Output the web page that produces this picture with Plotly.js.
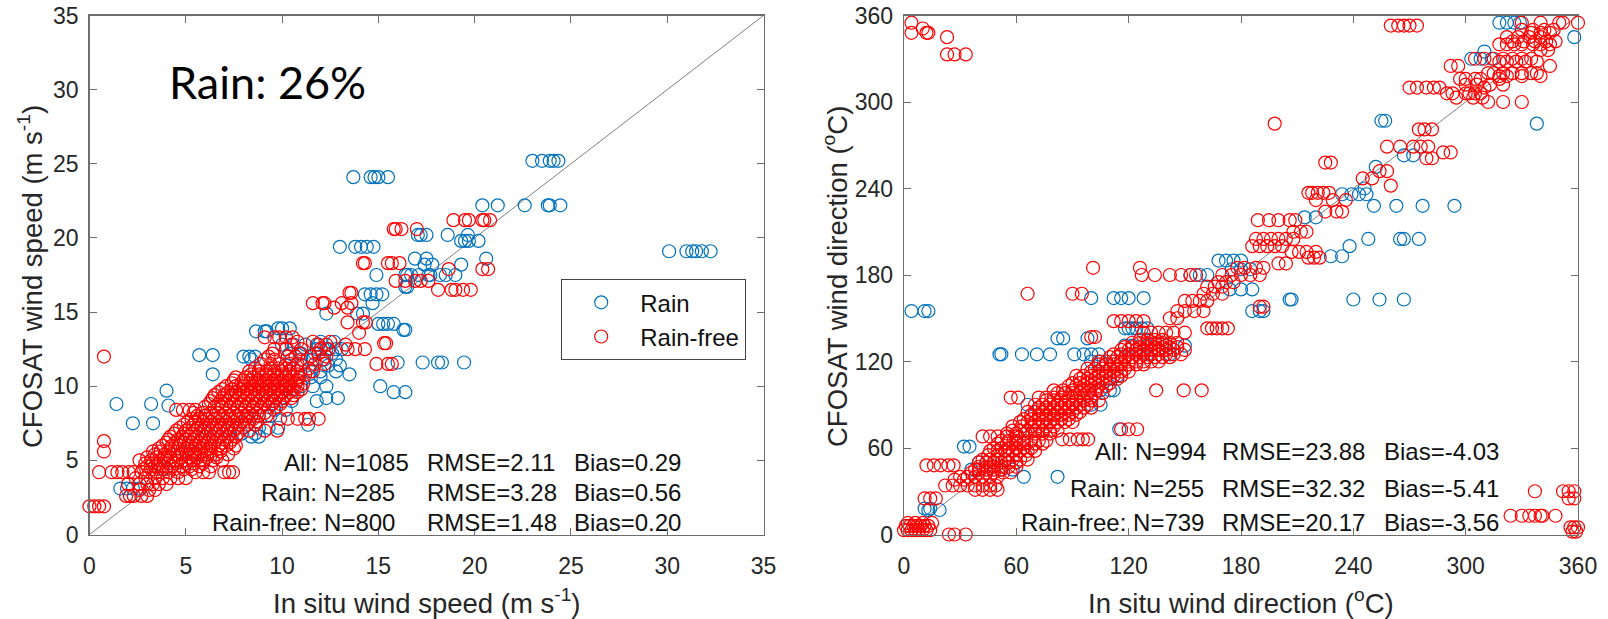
<!DOCTYPE html>
<html>
<head>
<meta charset="utf-8">
<script src="https://cdn.plot.ly/plotly-3.0.1.min.js"></script>
<style>html,body{margin:0;padding:0;background:#fff;}#chart{width:1608px;height:619px;}</style>
</head>
<body>
<div id="chart"></div>
<script>
// ---------- DATA ----------
// Each row: [CFOSAT value, in-situ value, in-situ value, ...]
const speedRain = [
  [24.1, 13.7, 14.6, 14.8, 15.0, 15.5],
  [25.2, 23.0, 23.5, 23.9, 24.1, 24.35],
  [22.2, 20.4, 21.2, 22.6, 23.8, 23.9, 24.45],
  [19.1, 30.1, 31.0, 31.3, 31.5, 31.8, 32.25],
  [19.4, 13.0, 13.8, 14.1, 14.4, 14.75],
  [20.2, 17.05, 17.2, 17.5, 18.6, 19.65],
  [19.8, 19.3, 19.5, 19.7, 20.2],
  [18.6, 16.9, 17.5, 20.6],
  [18.2, 17.4, 17.8, 19.3],
  [17.5, 14.9, 16.4, 16.5, 16.7, 17.1, 17.6, 17.7, 18.2, 18.5, 19.0],
  [16.7, 16.4, 16.5],
  [16.2, 14.3, 14.6, 14.9, 15.2],
  [15.6, 14.7],
  [14.9, 12.3, 13.9, 14.2],
  [14.2, 15.0, 15.25, 15.5, 15.8],
  [13.8, 16.3, 16.4],
  [11.6, 16.0, 17.3, 18.1, 18.3, 19.45],
  [10.0, 15.1],
  [9.6, 15.8, 16.4],
  [13.7, 8.65, 9.1, 9.2],
  [13.9, 9.8, 10.0, 10.4],
  [12.1, 5.7, 6.4],
  [12.0, 8.0, 8.3, 8.6],
  [11.8, 8.4, 11.0, 11.6, 12.2, 12.8],
  [10.8, 6.4, 13.5],
  [9.7, 4.0],
  [8.8, 1.4, 3.2],
  [8.7, 4.1],
  [7.5, 2.25, 3.3],
  [3.1, 1.6, 1.95, 2.25, 2.6],
  [9.2, 12.3, 12.9],
  [7.4, 11.35],
  [9.0, 9.5, 10.5, 11.8],
  [10.0, 10.2, 11.0, 11.6, 12.3],
  [11.0, 11.5, 12.0, 12.8],
  [12.5, 11.8, 12.3, 12.8, 13.1],
  [13.0, 12.0, 12.7],
  [12.8, 10.0, 10.6, 11.2, 11.9],
  [12.2, 10.4, 11.0, 11.7, 12.6],
  [11.4, 10.2, 11.0, 12.4, 13.0],
  [10.6, 11.5, 12.0],
  [8.4, 9.6, 10.2],
  [7.2, 8.8, 9.3, 9.8],
  [6.8, 7.9, 8.6],
  [6.6, 8.4, 8.8],
  [7.0, 6.0, 7.2],
  [8.0, 7.6, 8.2, 9.4],
  [5.5, 4.8, 5.5],
  [4.4, 3.8]
];
const speedRainFree = [
  [21.2, 18.9, 19.5, 19.7, 20.4, 20.5, 20.8],
  [20.6, 15.8, 15.9, 16.2, 17.0],
  [18.3, 14.2, 14.3, 15.5, 15.7, 16.1],
  [17.9, 18.65, 20.4, 20.7],
  [17.1, 15.9, 16.4, 16.9, 17.2, 17.6],
  [16.5, 18.1, 18.8, 19.0, 19.4, 19.8],
  [16.3, 13.5, 13.6],
  [15.6, 11.6, 12.1, 12.2, 13.1, 13.6],
  [15.3, 12.7, 13.4],
  [14.3, 13.4, 14.2, 14.35],
  [13.6, 14.0],
  [12.9, 15.3, 15.4],
  [11.5, 14.9, 15.5, 15.7],
  [13.3, 9.1, 9.6, 9.85, 10.2, 10.55],
  [12.0, 0.75],
  [6.3, 0.75],
  [5.6, 0.75],
  [4.2, 0.5, 1.15, 1.45, 1.7, 2.05, 2.3, 2.7, 3.1, 3.5, 4.1, 4.6, 5.5, 5.9, 6.2, 7.0, 7.25, 7.45],
  [1.9, 0.0, 0.25, 0.5, 0.75],
  [2.6, 1.9, 2.1, 2.3, 2.7, 3.0],
  [3.0, 2.6, 3.1, 3.4],
  [3.4, 2.0, 2.6, 3.0, 3.3, 3.6, 4.0],
  [3.8, 2.4, 2.9, 3.4, 3.8, 4.2, 4.6, 5.0],
  [4.4, 2.8, 3.2, 3.6, 4.0, 4.4, 4.9, 5.3],
  [4.6, 3.0, 3.4, 3.8, 4.3, 4.8, 5.2, 5.7, 6.3],
  [4.8, 2.9, 3.3, 3.6, 4.1, 4.5, 5.0, 5.4, 5.9],
  [5.0, 2.6, 3.2, 3.7, 4.0, 4.5, 5.0, 5.4, 5.9, 6.4, 6.9],
  [5.2, 3.0, 3.5, 3.9, 4.2, 4.7, 5.2, 5.6, 6.1, 6.6],
  [5.4, 3.4, 3.9, 4.4, 4.8, 5.3, 5.7, 6.1, 6.6, 7.2],
  [5.6, 3.3, 3.7, 4.1, 4.6, 5.0, 5.4, 5.8, 6.3, 6.8],
  [5.8, 3.6, 4.2, 4.6, 5.1, 5.5, 5.9, 6.3, 6.8, 7.5],
  [6.0, 3.8, 4.3, 4.7, 5.1, 5.5, 5.9, 6.3, 6.7, 7.1, 7.6],
  [6.2, 4.0, 4.5, 4.9, 5.3, 5.7, 6.1, 6.5, 6.9, 7.3],
  [6.4, 4.1, 4.6, 5.0, 5.4, 5.8, 6.2, 6.6, 7.0, 7.4],
  [6.6, 4.2, 4.8, 5.2, 5.6, 6.0, 6.4, 6.8, 7.2, 7.6],
  [6.8, 4.4, 4.9, 5.3, 5.7, 6.1, 6.5, 6.9, 7.3, 7.7],
  [7.0, 4.5, 5.0, 5.5, 5.9, 6.3, 6.7, 7.1, 7.5, 8.3, 9.1, 9.75],
  [7.2, 4.7, 5.2, 5.6, 6.0, 6.4, 6.8, 7.2, 7.6, 8.0],
  [7.4, 4.9, 5.4, 5.8, 6.2, 6.6, 7.0, 7.4, 7.8, 8.2, 8.6],
  [7.6, 5.1, 5.5, 5.9, 6.3, 6.7, 7.1, 7.5, 7.9, 8.3, 8.7],
  [7.8, 5.3, 5.7, 6.1, 6.5, 6.9, 7.3, 7.7, 8.1, 8.5, 9.9, 10.3, 10.8, 11.2, 11.4, 11.9],
  [8.0, 5.6, 6.0, 6.4, 6.8, 7.2, 7.6, 8.0, 8.4, 8.8, 9.2],
  [8.2, 5.4, 5.9, 6.3, 6.7, 7.1, 7.5, 7.9, 8.3, 8.7, 9.1],
  [8.4, 4.5, 4.85, 5.2, 5.5],
  [8.6, 6.0, 6.5, 6.9, 7.3, 7.7, 8.1, 8.5, 8.9, 9.3, 9.7],
  [8.8, 6.2, 6.7, 7.1, 7.5, 7.9, 8.3, 8.7, 9.1, 9.5, 9.9],
  [9.0, 6.3, 6.8, 7.2, 7.6, 8.0, 8.4, 8.8, 9.2, 9.6, 10.0],
  [9.2, 6.4, 6.9, 7.3, 7.7, 8.1, 8.5, 8.9, 9.3, 9.7, 10.1, 10.5],
  [9.4, 6.5, 7.0, 7.4, 7.8, 8.2, 8.6, 9.0, 9.4, 9.8, 10.2, 10.6],
  [9.6, 6.7, 7.2, 7.6, 8.0, 8.4, 8.8, 9.2, 9.6, 10.0, 10.4, 10.8],
  [9.8, 6.9, 7.4, 7.8, 8.2, 8.6, 9.0, 9.4, 9.8, 10.2, 10.6, 11.0],
  [10.0, 7.1, 7.6, 8.0, 8.4, 8.8, 9.2, 9.6, 10.0, 10.4, 10.8],
  [10.2, 7.4, 7.9, 8.3, 8.7, 9.1, 9.5, 9.9, 10.3, 10.7, 11.1],
  [10.4, 7.5, 8.0, 8.4, 8.8, 9.2, 9.6, 10.0, 10.4, 10.8],
  [10.6, 7.6, 8.1, 8.5, 8.9, 9.3, 9.7, 10.1, 10.5, 10.9],
  [10.8, 8.4, 8.8, 9.2, 9.6, 10.0, 10.4, 10.8, 11.2],
  [11.0, 8.3, 8.8, 9.2, 9.6, 10.0, 10.4, 10.8, 11.6],
  [11.2, 8.6, 9.4, 9.8, 10.2, 10.6, 11.4],
  [11.5, 8.9, 9.4, 9.9, 10.4, 10.8, 11.7, 12.2],
  [11.8, 9.1, 9.6, 10.5, 11.3, 12.1],
  [12.0, 9.3, 10.3, 10.7, 11.5, 12.3],
  [12.2, 9.5, 10.9, 11.9],
  [12.5, 9.6, 10.2, 11.0, 12.0, 12.4, 13.4, 13.8, 14.3],
  [12.8, 10.5, 11.8, 12.3, 13.3],
  [13.0, 10.8, 11.6, 12.5]
];
const dirRain = [
  [155, 4, 11, 13, 186, 190, 192],
  [125, 51, 52, 63, 71, 78, 91, 96, 100, 104, 130, 142],
  [136, 82, 85, 98],
  [164, 100, 112, 116, 120, 128],
  [143, 118, 120, 122, 124, 127, 130],
  [131, 118, 122, 130, 140, 150],
  [287, 255, 257],
  [263, 267, 272],
  [236, 234, 239, 243, 247],
  [228, 251, 263, 277, 294],
  [205, 248, 265, 267, 275],
  [193, 228, 234],
  [200, 238],
  [163, 206, 207, 240, 254, 267],
  [285, 338],
  [355, 318, 322, 326, 329],
  [345, 358],
  [330, 303, 308, 314],
  [180, 153, 158, 162],
  [190, 168, 172, 176, 180],
  [184, 175, 180, 185],
  [170, 174, 180, 186],
  [18, 11, 14],
  [17, 13, 19],
  [61, 32, 35],
  [40, 64, 82],
  [73, 115],
  [90, 66, 90, 100, 105],
  [100, 105, 110, 112],
  [110, 104, 114],
  [50, 40, 44, 48],
  [45, 36, 40, 52, 58],
  [120, 100, 105, 112],
  [220, 214, 220],
  [240, 246],
  [255, 252],
  [335, 310]
];
const dirRainFree = [
  [3, 0, 2, 4, 6, 8, 10, 12, 14],
  [6, 1, 3, 5, 7, 9, 11, 13],
  [8, 2, 6, 10, 15],
  [0, 24, 27, 33],
  [25, 11, 14, 17],
  [34, 22, 26, 30, 34, 38, 42, 46, 49],
  [31, 38, 42, 46, 50],
  [48, 12, 16, 19.6, 23.7, 26.5],
  [38, 27, 32],
  [40, 30, 34, 38, 42, 46, 50],
  [43, 36, 40, 44, 48, 53, 57],
  [45, 38, 40, 44, 48, 52],
  [47, 40, 44, 48, 52, 56, 60],
  [50, 40, 44, 48, 52, 56, 60],
  [52, 42, 46, 50, 54, 58, 62, 66],
  [55, 45, 50, 55, 60, 65],
  [58, 46, 50, 54, 58, 62, 66, 70],
  [60, 48, 52, 56, 60, 64, 68],
  [63, 50, 55, 60, 64, 70, 74],
  [65, 52, 56, 60, 64, 68, 72, 76],
  [66, 84.5, 88.6, 92.8, 95.5, 98.3],
  [68, 42, 46, 50, 55, 60],
  [70, 55, 60, 65, 70, 74, 78],
  [72, 58, 62, 66, 70, 74, 78, 82],
  [73, 116, 120, 124.5],
  [75, 58, 63, 68, 72, 76, 80],
  [78, 62, 66, 70, 74, 78, 82, 86, 90],
  [80, 64, 68, 72, 76, 80, 84, 88],
  [83, 68, 72, 76, 80, 84, 88, 92],
  [85, 66, 70, 74, 78, 82, 86, 90, 94],
  [88, 72, 76, 80, 84, 88, 92, 96, 100],
  [90, 70, 74, 78, 82, 86, 90, 94, 98],
  [93, 76, 80, 84, 88, 92, 96, 100, 104],
  [95, 57, 61, 72, 76, 80, 84, 88, 92, 96, 100],
  [98, 82, 86, 90, 94, 98, 102, 106],
  [100, 80, 85, 90, 95, 99, 103, 134.7, 149.4, 159],
  [103, 88, 92, 96, 100, 104, 108],
  [105, 90, 94, 98, 102, 106, 110],
  [108, 94, 98, 102, 106, 110, 114],
  [110, 92, 96, 100, 104, 108, 112, 116],
  [113, 100, 104, 108, 112, 116, 120],
  [115, 98, 102, 106, 110, 114, 118],
  [118, 104, 108, 112, 116, 120, 124, 128],
  [120, 104, 108, 112, 116, 120, 124, 128, 132, 136],
  [123, 110, 114, 118, 122, 126, 130, 134, 138, 142],
  [125, 112, 116, 120, 124, 128, 132, 136, 140, 144, 148],
  [128, 116, 120, 124, 128, 132, 136, 140, 144, 150],
  [130, 118, 122, 126, 130, 134, 138, 142, 146],
  [133, 122, 126, 130, 134, 138, 142, 146],
  [135, 126, 130, 134, 138],
  [137, 100, 102],
  [140, 128, 132, 136, 140, 144, 150],
  [143, 162, 164.5, 167, 170, 173],
  [148, 112, 116, 120, 124, 128],
  [150, 142, 146],
  [155, 146, 150, 155, 160],
  [158, 190, 192],
  [162, 150, 154, 158, 162],
  [167, 66, 90, 95, 160, 165, 170],
  [172, 162, 166, 170],
  [175, 168, 172, 176],
  [180, 127, 134, 142, 148, 153, 156, 170, 175, 180, 185, 190],
  [185, 101, 126, 178, 182, 188, 192],
  [188, 200, 204],
  [192, 216, 219, 222],
  [196, 207, 211, 215, 220],
  [200, 186, 190, 194, 198, 202],
  [205, 188, 192, 196, 200, 204, 208],
  [210, 208, 212, 215],
  [218, 189, 195, 200, 206, 209],
  [224, 225, 231, 234],
  [232, 220, 229, 236],
  [237, 216, 218, 221, 224, 227],
  [242, 260],
  [247, 245, 250],
  [252, 254, 258],
  [258, 225, 228],
  [261, 279, 282],
  [265, 288, 292],
  [269, 258, 265, 272, 276, 280],
  [281, 275, 278, 282],
  [285, 198],
  [300, 312, 320, 330],
  [303, 295, 304, 309],
  [306, 290, 293, 300, 302, 305, 308],
  [310, 270, 274, 279, 283, 286, 310],
  [312, 300, 306, 313, 320],
  [316, 297, 300, 305, 308, 318],
  [318, 318, 322, 330, 340],
  [320, 312, 315, 320, 325, 330, 335, 338],
  [325, 292, 296, 345],
  [328, 318, 322, 327, 332, 338],
  [330, 305, 310, 315, 320, 325, 330, 335],
  [333, 23, 27, 33],
  [336, 340, 344],
  [340, 318, 322, 326, 330, 336, 340, 345],
  [342, 325, 331, 337, 343, 348],
  [345, 23, 322, 328, 334, 340],
  [348, 4, 12, 13, 335, 340, 345],
  [350, 330, 336, 342, 347],
  [351, 10],
  [353, 260, 264, 267, 270, 274],
  [355, 4, 330, 340, 350, 352, 360],
  [13, 324, 330, 334, 337, 340, 341, 348],
  [30, 337, 352, 355, 358],
  [25, 355, 358],
  [5, 356, 358, 360],
  [2, 357, 359]
];
const seriesNames = ['Rain', 'Rain-free'];
const speedTicks = [0, 5, 10, 15, 20, 25, 30, 35];
const dirTicks = [0, 60, 120, 180, 240, 300, 360];
const statsSpeed = [
  ['All: N=1085', 'RMSE=2.11', 'Bias=0.29'],
  ['Rain: N=285', 'RMSE=3.28', 'Bias=0.56'],
  ['Rain-free: N=800', 'RMSE=1.48', 'Bias=0.20']
];
const statsDir = [
  ['All: N=994', 'RMSE=23.88', 'Bias=-4.03'],
  ['Rain: N=255', 'RMSE=32.32', 'Bias=-5.41'],
  ['Rain-free: N=739', 'RMSE=20.17', 'Bias=-3.56']
];
const rainShare = 'Rain: 26%';

// ---------- BUILD ----------
function flat(rows) {
  const x = [], y = [];
  rows.forEach(r => { for (let i = 1; i < r.length; i++) { x.push(r[i]); y.push(r[0]); } });
  return {x, y};
}
const W = 1608, H = 619;
const PX = p => p / W, PY = p => 1 - p / H;
const BLUE = '#0072BD', RED = '#FF0000';
const FONT = '"Liberation Sans", Arial, sans-serif';
const TXT = '#262626';

function mk(rows, color, name, xa, ya, show) {
  const d = flat(rows);
  return {
    type: 'scatter', mode: 'markers', x: d.x, y: d.y, name: name,
    xaxis: xa, yaxis: ya, showlegend: show, cliponaxis: false,
    marker: {symbol: 'circle-open', size: 13, color: color, line: {width: 1.2, color: color}}
  };
}
const traces = [
  mk(speedRain, BLUE, seriesNames[0], 'x', 'y', true),
  mk(speedRainFree, RED, seriesNames[1], 'x', 'y', true),
  mk(dirRain, BLUE, seriesNames[0], 'x2', 'y2', false),
  mk(dirRainFree, RED, seriesNames[1], 'x2', 'y2', false)
];

function axis(domain, range, ticks, anchor, isX) {
  return {
    domain: domain, range: range, anchor: anchor,
    tickmode: 'array', tickvals: ticks, ticktext: ticks.map(String),
    ticks: 'inside', ticklen: 7, tickwidth: 1, tickcolor: '#6e6e6e',
    showline: true, linecolor: '#6e6e6e', linewidth: 1.4, mirror: 'ticks',
    showgrid: false, zeroline: false, fixedrange: true,
    tickfont: {family: FONT, size: 23, color: TXT},
    ticklabelstandoff: isX ? 10 : 5
  };
}
const xd1 = [PX(89.5), PX(763.5)], xd2 = [PX(904), PX(1578)];
const yd = [PY(534.5), PY(15.5)];

const ann = [];
function txt(x, y, text, size, xanchor, extra) {
  ann.push(Object.assign({xref: 'paper', yref: 'paper', x: PX(x), y: PY(y), text: text,
    showarrow: false, xanchor: xanchor, yanchor: 'middle',
    font: {family: FONT, size: size, color: '#111'}}, extra || {}));
}
const TS = 27.5;
// axis titles
txt(426.5, 601, 'In situ wind speed (m s<sup>-1</sup>)', TS, 'center', {font: {family: FONT, size: TS, color: TXT}});
txt(1241, 601, 'In situ wind direction (<sup>o</sup>C)', TS, 'center', {font: {family: FONT, size: TS, color: TXT}});
txt(31, 277, 'CFOSAT wind speed (m s<sup>-1</sup>)', TS, 'center', {textangle: -90, font: {family: FONT, size: TS, color: TXT}});
txt(836, 277, 'CFOSAT wind direction (<sup>o</sup>C)', TS, 'center', {textangle: -90, font: {family: FONT, size: TS, color: TXT}});
// rain share
txt(167, 82, rainShare, 45, 'left', {font: {family: 'Lato, "Open Sans", sans-serif', size: 45, color: '#000'}});
// stats
const sRowY = [462.5, 493, 522], sC1 = [411, 397, 397], sC2 = 425, sC3 = 572;
statsSpeed.forEach((r, i) => {
  txt(sC1[i], sRowY[i], r[0], 24, 'right');
  txt(sC2, sRowY[i], r[1], 24, 'left');
  txt(sC3, sRowY[i], r[2], 24, 'left');
});
const dRowY = [451, 488, 522], dC1 = [1208, 1206, 1206], dC2 = 1220, dC3 = 1382;
statsDir.forEach((r, i) => {
  txt(dC1[i], dRowY[i], r[0], 24, 'right');
  txt(dC2, dRowY[i], r[1], 24, 'left');
  txt(dC3, dRowY[i], r[2], 24, 'left');
});

const layout = {
  width: W, height: H, margin: {l: 0, r: 0, t: 0, b: 0},
  paper_bgcolor: '#fff', plot_bgcolor: '#fff',
  xaxis: axis(xd1, [0, 35], speedTicks, 'y', true),
  yaxis: axis(yd, [0, 35], speedTicks, 'x', false),
  xaxis2: axis(xd2, [0, 360], dirTicks, 'y2', true),
  yaxis2: axis(yd, [0, 360], dirTicks, 'x2', false),
  shapes: [
    {type: 'line', xref: 'x', yref: 'y', x0: 0, y0: 0, x1: 35, y1: 35, line: {color: '#606060', width: 0.8}, layer: 'below'},
    {type: 'line', xref: 'x2', yref: 'y2', x0: 0, y0: 0, x1: 360, y1: 360, line: {color: '#606060', width: 0.8}, layer: 'below'}
  ],
  annotations: ann,
  legend: {
    x: PX(561), y: PY(279), xanchor: 'left', yanchor: 'top',
    bgcolor: '#fff', bordercolor: '#444', borderwidth: 1.2,
    font: {family: FONT, size: 24, color: '#111'}, itemwidth: 68, tracegroupgap: 0
  },
  showlegend: true
};
Plotly.newPlot('chart', traces, layout, {staticPlot: true, displayModeBar: false});
</script>
</body>
</html>
